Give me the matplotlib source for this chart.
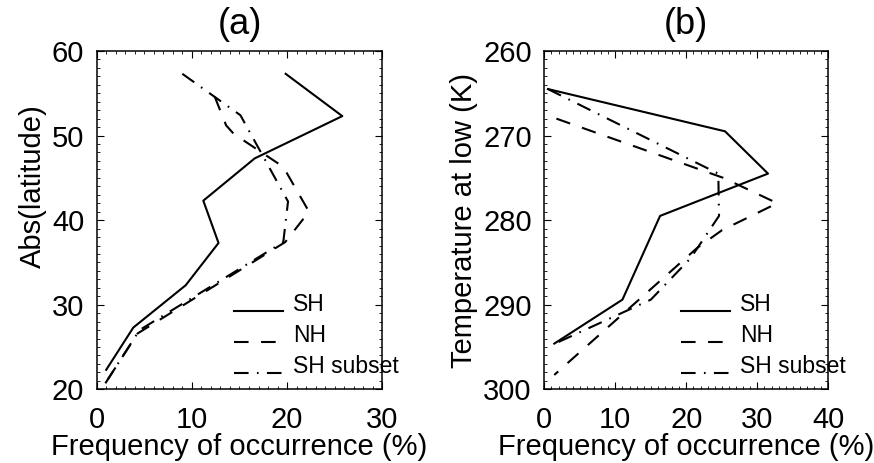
import matplotlib
matplotlib.use("Agg")
import matplotlib.pyplot as plt
from matplotlib.ticker import MultipleLocator

plt.rcParams['font.family'] = ['Liberation Sans', 'DejaVu Sans']

# (a) frequency of occurrence against abs(latitude)
lat_sh = [57.3, 52.3, 47.3, 42.3, 37.3, 32.3, 27.3, 22.3]
freq_lat_sh = [19.85, 25.8, 16.6, 11.2, 12.8, 9.35, 3.85, 1.0]
lat_nh = [54.6, 51.2, 50.2, 46.3, 41.0, 37.4, 26.6, 20.7]
freq_lat_nh = [12.4, 13.6, 14.4, 19.6, 22.3, 19.8, 4.3, 0.9]
lat_sub = [57.3, 52.4, 47.3, 42.2, 37.4, 27.0, 20.6]
freq_lat_sub = [9.0, 15.1, 17.6, 20.1, 19.6, 4.5, 0.85]

# (b) frequency of occurrence against temperature at low cloud
temp_sh = [264.5, 269.5, 274.5, 279.5, 289.4, 294.6]
freq_temp_sh = [0.5, 25.45, 31.5, 16.3, 11.0, 1.4]
temp_nh = [268.0, 275.0, 278.0, 281.2, 283.3, 298.3]
freq_temp_nh = [1.7, 25.2, 32.8, 25.0, 21.5, 1.4]
temp_sub = [264.5, 274.5, 279.5, 284.5, 289.4, 294.6]
freq_temp_sub = [0.5, 24.5, 24.6, 20.6, 15.0, 1.5]

labels = ['SH', 'NH', 'SH subset']
styles = ['-', (0, (7, 6)), (0, (7, 4, 0.8, 4))]
LW = 1.5

fig = plt.figure(figsize=(8.74, 4.63), dpi=100)
ax1 = fig.add_axes([0.1106, 0.1592, 0.3268, 0.7307])
ax2 = fig.add_axes([0.6228, 0.1592, 0.3250, 0.7307])


def style_axes(ax, title):
    ax.tick_params(which='both', direction='in', top=True, right=True,
                   labelsize=21)
    ax.tick_params(axis='x', pad=12)
    ax.tick_params(axis='y', pad=9)
    ax.tick_params(which='major', length=5, width=0.8)
    ax.tick_params(which='minor', length=2.5, width=0.6)
    ax.xaxis.set_major_locator(MultipleLocator(10))
    ax.yaxis.set_major_locator(MultipleLocator(10))
    ax.xaxis.set_minor_locator(MultipleLocator(1))
    ax.yaxis.set_minor_locator(MultipleLocator(1))
    for s in ax.spines.values():
        s.set_linewidth(1.1)
    ax.set_xlabel('Frequency of occurrence (%)', fontsize=21, labelpad=-1)
    ax.set_title(title, fontsize=26, pad=12)


def key(ax):
    # hand-drawn key in the lower right, text allowed to run past the frame
    rows = [0.232, 0.140, 0.048]
    for y, lab, ls in zip(rows, labels, styles):
        ax.plot([0.481, 0.652], [y, y], color='black', lw=LW, linestyle=ls,
                transform=ax.transAxes, clip_on=False)
        ax.text(0.688, y, lab, fontsize=16.5, transform=ax.transAxes,
                va='baseline', ha='left', clip_on=False)


ax1.plot(freq_lat_sh, lat_sh, color='black', lw=LW, linestyle=styles[0])
ax1.plot(freq_lat_nh, lat_nh, color='black', lw=LW, linestyle=styles[1])
ax1.plot(freq_lat_sub, lat_sub, color='black', lw=LW, linestyle=styles[2])
ax1.set_xlim(0, 30)
ax1.set_ylim(20, 60)
ax1.set_ylabel('Abs(latitude)', fontsize=21)
ax1.yaxis.set_label_coords(-0.175, 0.6)
style_axes(ax1, '(a)')
key(ax1)

ax2.plot(freq_temp_sh, temp_sh, color='black', lw=LW, linestyle=styles[0])
ax2.plot(freq_temp_nh, temp_nh, color='black', lw=LW, linestyle=styles[1])
ax2.plot(freq_temp_sub, temp_sub, color='black', lw=LW, linestyle=styles[2])
ax2.set_xlim(0, 40)
ax2.set_ylim(300, 260)
ax2.set_ylabel('Temperature at low (K)', fontsize=21)
style_axes(ax2, '(b)')
key(ax2)

fig.savefig('out.png', dpi=100)
